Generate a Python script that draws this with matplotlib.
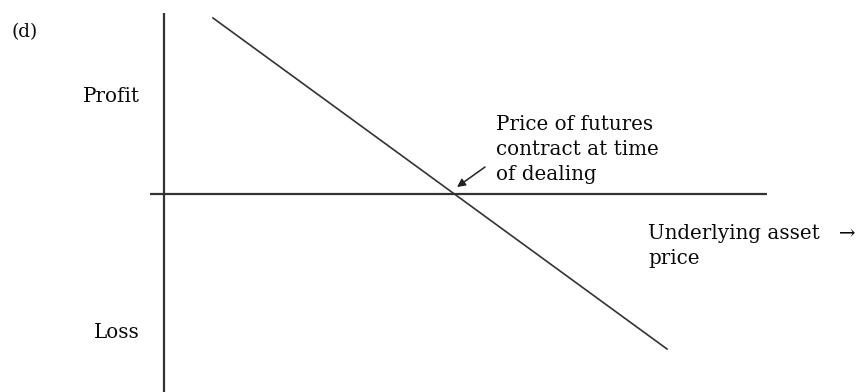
import matplotlib
matplotlib.use("Agg")
import matplotlib.pyplot as plt

# =========================
# DATA (schematic payoff of a short futures position)
# =========================
price_axis = [-0.14, 6.03]      # horizontal axis extent
profit_axis = [-1.98, 1.81]     # vertical axis extent
payoff_price = [0.49, 5.03]
payoff_profit = [1.76, -1.55]
deal_price = 2.90               # where payoff crosses zero

labels_profit = "Profit"
labels_loss = "Loss"
label_price = "Underlying asset   \u2192\nprice"
label_deal = "Price of futures\ncontract at time\nof dealing"
panel_label = "(d)"

FONT = ["DejaVu Serif"]
FS = 14.3
INK = "#333333"
TXT = "#0a0a0a"

fig = plt.figure(figsize=(8.58, 3.92), dpi=100)
ax = fig.add_axes([0, 0, 1, 1])
ax.set_xlim(-1.64, 6.94)
ax.set_ylim(-1.98, 1.94)
ax.axis("off")

# axes of the diagram
ax.plot([0, 0], profit_axis, color=INK, linewidth=1.6, solid_capstyle="butt")
ax.plot(price_axis, [0, 0], color=INK, linewidth=1.6, solid_capstyle="butt")

# payoff line
ax.plot(payoff_price, payoff_profit, color=INK, linewidth=1.2)

# annotation arrow pointing at the zero-crossing
ax.annotate("", xy=(deal_price + 0.03, 0.07), xytext=(deal_price + 0.31, 0.27),
            arrowprops=dict(arrowstyle="-|>", color="#222222", lw=1.1,
                            mutation_scale=12, shrinkA=0, shrinkB=0))

ax.text(3.32, 0.445, label_deal, family=FONT, fontsize=FS, ha="left", va="center",
        linespacing=1.42, color=TXT)
ax.text(4.84, -0.52, label_price, family=FONT, fontsize=FS, ha="left", va="center",
        linespacing=1.42, color=TXT)
ax.text(-0.24, 0.97, labels_profit, family=FONT, fontsize=FS, ha="right", va="center",
        color=TXT)
ax.text(-0.24, -1.38, labels_loss, family=FONT, fontsize=FS, ha="right", va="center",
        color=TXT)
ax.text(-1.52, 1.62, panel_label, family=FONT, fontsize=FS - 1, ha="left", va="center",
        color=TXT)

fig.savefig("out.png", dpi=100)
